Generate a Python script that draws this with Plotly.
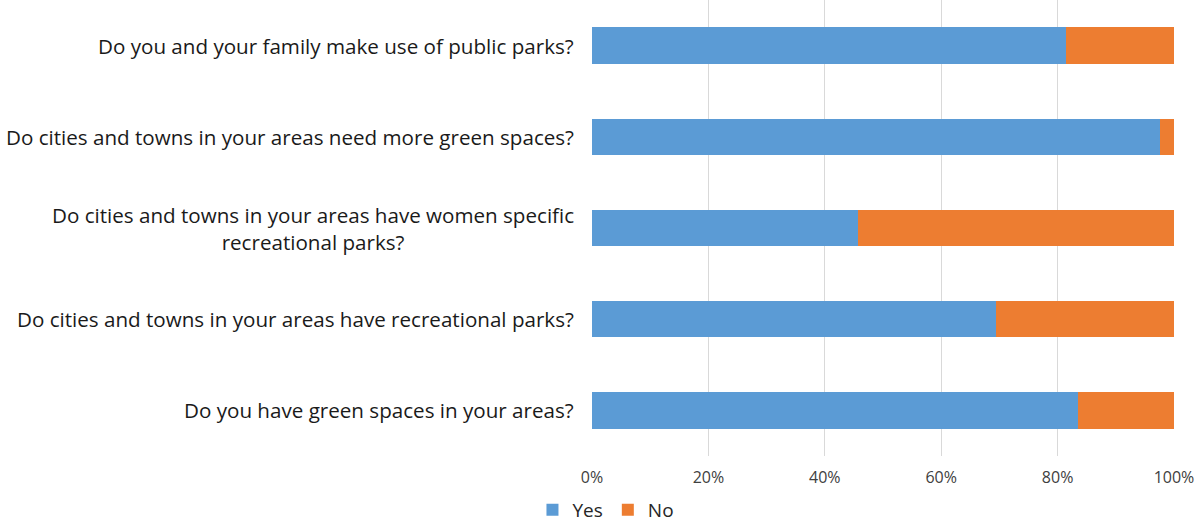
import plotly.graph_objects as go

categories = [
    "Do you and your family make use of public parks?",
    "Do cities and towns in your areas need more green spaces?",
    "Do cities and towns in your areas have women specific<br>recreational parks?",
    "Do cities and towns in your areas have recreational parks?",
    "Do you have green spaces in your areas?",
]
yes_vals = [81.4, 97.6, 45.7, 69.4, 83.5]
no_vals = [round(100 - v, 1) for v in yes_vals]
tick_vals = [0, 20, 40, 60, 80, 100]
tick_text = ["0%", "20%", "40%", "60%", "80%", "100%"]

FONT = "Open Sans"

fig = go.Figure()
fig.add_trace(go.Bar(y=categories, x=yes_vals, name="Yes", orientation="h",
                     marker=dict(color="#5B9BD5", line=dict(width=0))))
fig.add_trace(go.Bar(y=categories, x=no_vals, name="No", orientation="h",
                     marker=dict(color="#ED7D31", line=dict(width=0))))

for c in categories:
    fig.add_annotation(x=0, xref="paper", y=c, yref="y", text=c, showarrow=False,
                       xanchor="right", align="center", xshift=-16,
                       font=dict(family=FONT, size=20.6, color="#1a1a1a"))

fig.update_layout(
    barmode="stack",
    bargap=0.6,
    width=1203, height=530,
    margin=dict(l=592, r=29, t=0, b=74, autoexpand=False),
    paper_bgcolor="white", plot_bgcolor="white",
    font=dict(family=FONT, color="#404040"),
    showlegend=True,
    legend=dict(orientation="h", x=0.024, xanchor="center", y=-0.16, yanchor="bottom",
                font=dict(family=FONT, size=19, color="#262626"),
                itemwidth=30, traceorder="normal", tracegroupgap=0),
    xaxis=dict(range=[0, 100], tickvals=tick_vals, ticktext=tick_text,
               showgrid=True, gridcolor="#d9d9d9", gridwidth=1, zeroline=False,
               showline=False, ticks="", ticklabelstandoff=10,
               tickfont=dict(family=FONT, size=16, color="#404040"),
               fixedrange=True),
    yaxis=dict(autorange="reversed", showticklabels=False, showgrid=False,
               showline=False, ticks="", fixedrange=True),
)

fig.write_html("out.html")
